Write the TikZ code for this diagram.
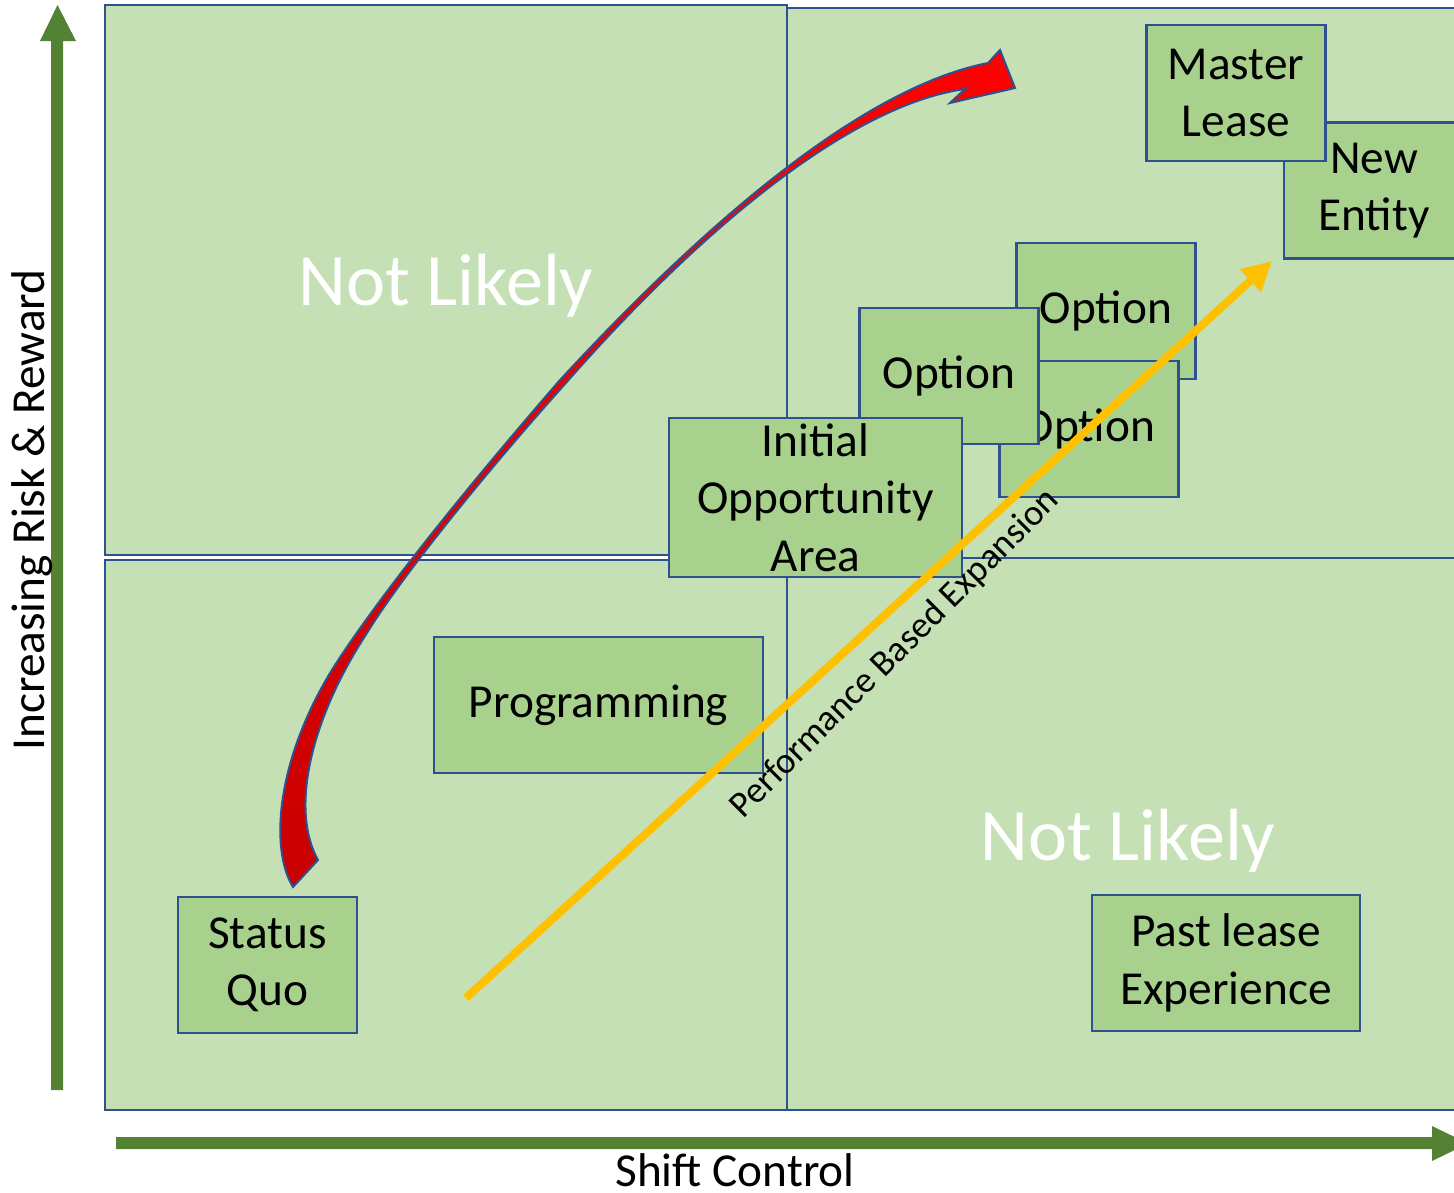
\documentclass[tikz,border=0pt]{standalone}
\usepackage{fontspec}
\setmainfont{Carlito}
\usetikzlibrary{arrows.meta}

\definecolor{quadfill}{RGB}{197,224,180}
\definecolor{boxfill}{RGB}{169,209,142}
\definecolor{boxline}{RGB}{47,82,143}
\definecolor{axisgreen}{RGB}{84,130,53}
\definecolor{gold}{RGB}{255,192,0}
\definecolor{darkred}{RGB}{200,0,0}

\tikzset{every picture/.style={line width=0.75pt}}
\tikzset{
  quad/.style={draw=boxline, fill=quadfill, line width=1.6pt},
  box/.style={draw=boxline, fill=boxfill, line width=1.8pt, minimum width=134pt, minimum height=102pt, inner sep=0pt, align=center, font=\fontsize{35.5}{43}\selectfont},
  axislabel/.style={inner sep=0pt, font=\fontsize{35.5}{43}\selectfont},
  notlikely/.style={text=white, inner sep=0pt, font=\fontsize{55.5}{66}\selectfont},
}

\begin{document}
\begin{tikzpicture}[x=0.75pt,y=0.75pt,yscale=-1,xscale=1]
\useasboundingbox (0,0) rectangle (1454,1193);

%Shape: Rectangle
\draw[quad] (105,5) rectangle (787,555);
%Shape: Rectangle
\draw[quad] (787,8) rectangle (1462,558);
%Shape: Rectangle
\draw[quad] (105,560) rectangle (787,1110);
%Shape: Rectangle
\draw[quad] (787,558) rectangle (1462,1110);

%Shape: Up Arrow
\fill[axisgreen] (51,1090) -- (51,41) -- (40,41) -- (57.5,5) -- (76,41) -- (63,41) -- (63,1090) -- cycle;
%Shape: Right Arrow
\fill[axisgreen] (116,1137) -- (1432,1137) -- (1432,1126) -- (1468,1143.5) -- (1432,1161) -- (1432,1149) -- (116,1149) -- cycle;

% Text Node
\node[axislabel, rotate=90] (risk) at (32,510) {Increasing Risk \& Reward};
% Text Node
\node[axislabel, anchor=base] (shift) at (735,1186) {Shift Control};

% Text Node
\node[notlikely, anchor=base] (nlupper) at (446,305) {Not Likely};
% Text Node
\node[notlikely, anchor=base] (nllower) at (1128,860) {Not Likely};

%Shape: Curved Arrow
\draw[draw=boxline, line width=1.5pt, top color=red, bottom color=darkred] (293,887) .. controls (270,850) and (275,760) .. (335,665) .. controls (385,588) and (475,478) .. (560,380) .. controls (680,250) and (850,90) .. (988,63) -- (1000,50) -- (1015,88) -- (950,103) -- (965,89) .. controls (850,105) and (700,230) .. (565,384) .. controls (478,481) and (398,582) .. (367,633) .. controls (310,720) and (290,810) .. (318,860) -- cycle;

%Shape: Rectangle
\node[box, minimum width=135pt] (entity) at (1374,190.5) {New\\Entity};
\node[box] (master) at (1236,93) {Master\\Lease};
\node[box] (opttop) at (1106,311) {Option};
\node[box] (optlow) at (1089,429) {Option};
\node[box] (optmid) at (949,376) {Option};
\node[box, minimum width=220pt, minimum height=119pt] (initial) at (815.5,497.5) {Initial\\Opportunity\\Area};
\node[box, minimum width=247pt] (prog) at (598.5,705) {Programming};
\node[box] (status) at (267.5,965) {Status\\Quo};
\node[box, minimum width=201pt] (past) at (1226,963) {Past lease\\Experience};

%Straight Lines
\coordinate (pbstart) at (466,998);
\coordinate (pbend) at (1272,261);
\draw[gold, line width=6pt, -{Triangle[length=22pt,width=22pt]}] (pbstart) -- (pbend);

% Text Node
\node[rotate=45, inner sep=0pt, font=\fontsize{27.5}{33}\selectfont] (perf) at (895,654) {Performance Based Expansion};

\end{tikzpicture}
\end{document}
